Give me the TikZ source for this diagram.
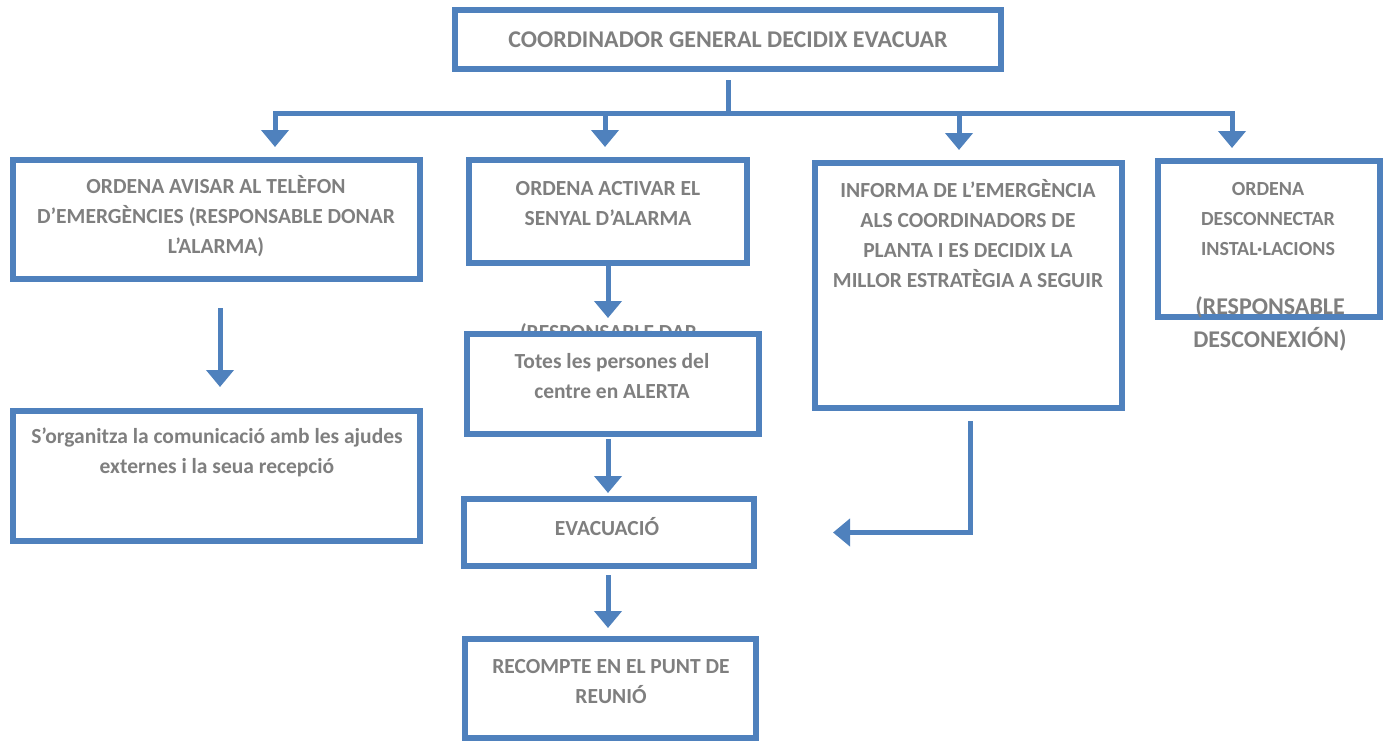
\documentclass[tikz,border=0pt]{standalone}
\usepackage{fontspec}
\setmainfont{Carlito}
\usetikzlibrary{arrows.meta,positioning}
\definecolor{boxblue}{HTML}{4F81BD}
\definecolor{txtgray}{HTML}{7F7F7F}

\begin{document}
\begin{tikzpicture}[x=1pt,y=-1pt,
    box/.style={draw=boxblue, line width=6pt, fill=white, inner sep=0pt},
    txt/.style={text=txtgray, font=\bfseries\fontsize{21.5}{30}\selectfont,
        align=center, inner sep=0pt},
    conn/.style={draw=boxblue, line width=5pt},
    arr/.style={conn, -{Triangle[width=27pt,length=17pt]}}]

    \useasboundingbox (0,0) rectangle (1390,742);

    % caixes
    \node[box, minimum width=546pt, minimum height=59pt] (coord) at (728,39.5) {};
    \node[box, minimum width=407pt, minimum height=119pt] (avisar) at (216.5,219.5) {};
    \node[box, minimum width=278pt, minimum height=103pt] (activar) at (608,211.5) {};
    \node[box, minimum width=307pt, minimum height=245pt] (informa) at (968.5,285.5) {};
    \node[box, minimum width=222pt, minimum height=156pt] (descon) at (1269,239) {};
    \node[box, minimum width=407pt, minimum height=130pt] (ajudes) at (216.5,476) {};
    \node[txt, anchor=base] (darhid) at (608.5,339) {(RESPONSABLE DAR};
    \node[box, minimum width=292pt, minimum height=100pt] (alerta) at (613,384) {};
    \node[box, minimum width=290pt, minimum height=67pt] (evac) at (609,532.5) {};
    \node[box, minimum width=291pt, minimum height=99pt] (punt) at (610.5,688.5) {};

    % textos
    \node[txt, font=\bfseries\fontsize{24}{30}\selectfont] (coordt) at (728,40)
        {COORDINADOR GENERAL DECIDIX EVACUAR};
    \node[txt] (avisart) at (216,216) {ORDENA AVISAR AL TELÈFON\\
        D’EMERGÈNCIES (RESPONSABLE DONAR\\L’ALARMA)};
    \node[txt] (activart) at (608,204) {ORDENA ACTIVAR EL\\SENYAL D’ALARMA};
    \node[txt] (informat) at (968,234) {INFORMA DE L’EMERGÈNCIA\\ALS COORDINADORS DE\\
        PLANTA I ES DECIDIX LA\\MILLOR ESTRATÈGIA A SEGUIR};
    \node[txt, font=\bfseries\fontsize{20}{30}\selectfont] (descont) at (1268,219)
        {ORDENA\\DESCONNECTAR\\INSTAL·LACIONS};
    \node[txt, font=\bfseries\fontsize{24}{33}\selectfont] (desconr) at (1270,323.5)
        {(RESPONSABLE\\DESCONEXIÓN)};
    \node[txt] (ajudest) at (217,452) {S’organitza la comunicació amb les ajudes\\
        externes i la seua recepció};
    \node[txt] (alertat) at (612,376) {Totes les persones del\\centre en ALERTA};
    \node[txt] (evact) at (607,527) {EVACUACIÓ};
    \node[txt] (puntt) at (611,682) {RECOMPTE EN EL PUNT DE\\REUNIÓ};

    % connectors
    \coordinate (hub) at (728,113);
    \coordinate (jA) at (275,113);
    \coordinate (jB) at (605,113);
    \coordinate (jC) at (959,113);
    \coordinate (jD) at (1232,113);
    \draw[conn, shorten <=8pt] (coord.south) -- (hub);
    \draw[conn, line cap=rect] (jA) -- (jD);
    \draw[arr, shorten >=10pt] (jA) -- (jA |- avisar.north);
    \draw[arr, shorten >=10pt] (jB) -- (jB |- activar.north);
    \draw[arr, shorten >=10pt] (jC) -- (jC |- informa.north);
    \draw[arr, shorten >=10pt] (jD) -- (jD |- descon.north);

    \draw[arr, shorten <=26pt, shorten >=21pt] ([xshift=3.5pt]avisar.south)
        -- ([xshift=3.5pt]avisar.south |- ajudes.north);
    \draw[arr, shorten >=13pt] (activar.south) -- (activar.south |- alerta.north);
    \draw[arr, shorten <=2pt, shorten >=3pt] (activar.south |- alerta.south)
        -- (activar.south |- evac.north);
    \draw[arr, shorten <=6pt, shorten >=8pt] (activar.south |- evac.south)
        -- (activar.south |- punt.north);
    \draw[arr, shorten >=76pt] ([xshift=1.5pt,yshift=-10pt]informa.south) |- (evac.east);
\end{tikzpicture}
\end{document}
